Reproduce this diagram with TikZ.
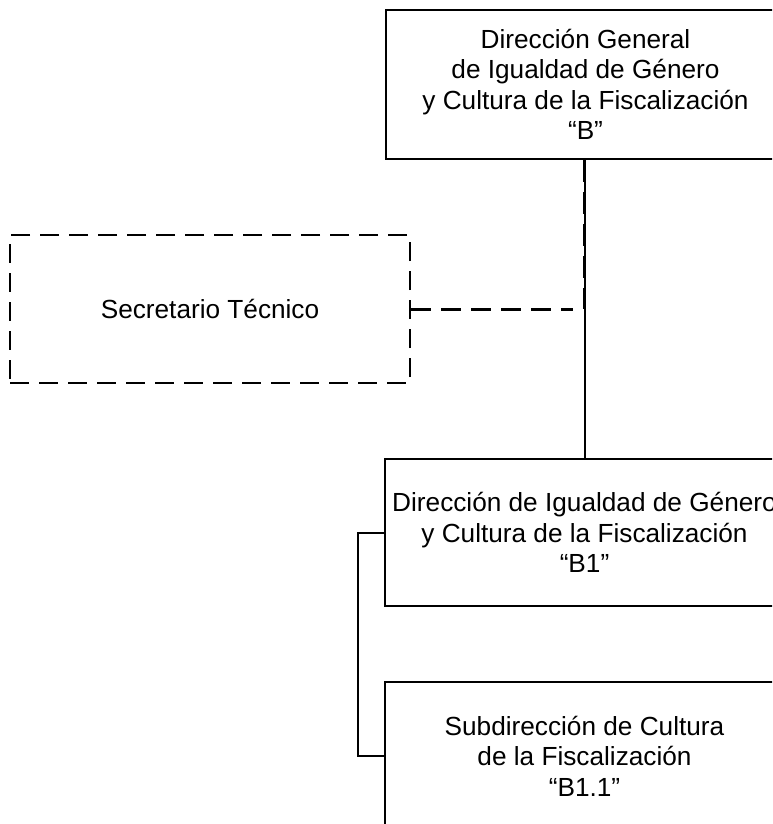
\documentclass[tikz,border=0pt]{standalone}
\usepackage{fontspec}
\setmainfont{Liberation Sans}
\begin{document}
\begin{tikzpicture}[x=1pt,y=-1pt,
  box/.style={draw, line width=2pt, minimum width=400pt, inner sep=0pt, align=center, font=\fontsize{26.2}{30.5}\selectfont},
  dbox/.style={box, line width=2.6pt, dash pattern=on 19pt off 10pt},
  link/.style={line width=2pt},
  dlink/.style={line width=3.4pt, dash pattern=on 22pt off 10pt}]
\useasboundingbox (0,0) rectangle (772,824);
\clip (0,0) rectangle (772,824);
\fill[white] (0,0) rectangle (772,824);
\node[box, minimum height=149pt] (top) at (585.5,84.5) {Dirección General\\de Igualdad de Género\\y Cultura de la Fiscalización\\“B”};
\node[dbox, minimum height=148pt] (sec) at (210,309) {Secretario Técnico};
\node[box, minimum height=147pt] (b1) at (584.5,532.5) {Dirección de Igualdad de Género\\y Cultura de la Fiscalización\\“B1”};
\node[box, minimum height=148pt] (b11) at (584.5,756) {Subdirección de Cultura\\de la Fiscalización\\“B1.1”};
\coordinate (j) at (b1.north |- sec.east);
\draw[link] (top.south -| b1.north) -- (b1.north);
\draw[dlink] (top.south -| b1.north) -- (j);
\draw[dlink, line width=3pt, dash pattern=on 20pt off 10pt] (sec.east) -- ([xshift=-12pt]j);
\draw[link] (b1.west) -- ++(-26,0) |- (b11.west);
\end{tikzpicture}
\end{document}
